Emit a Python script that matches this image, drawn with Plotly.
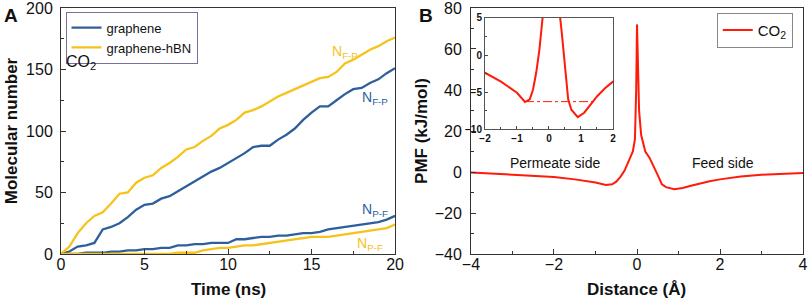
import plotly.graph_objects as go

# ---- Panel A data ----
t = [0, 0.5, 1, 1.5, 2, 2.5, 3, 3.5, 4, 4.5, 5, 5.5, 6, 6.5, 7, 7.5, 8, 8.5, 9, 9.5,
     10, 10.5, 11, 11.5, 12, 12.5, 13, 13.5, 14, 14.5, 15, 15.5, 16, 16.5, 17, 17.5,
     18, 18.5, 19, 19.5, 20]
hbn_fp = [0, 6, 17, 25, 31, 34, 41, 49, 50, 58, 62, 64, 70, 74, 79, 85, 87, 92, 96, 102,
          105, 109, 115, 117, 120, 124, 128, 131, 134, 137, 140, 143, 144, 148, 155, 158,
          162, 166, 169, 173, 176]
gr_fp = [0, 2, 6, 7, 9, 20, 22, 25, 30, 36, 40, 41, 45, 47, 51, 55, 59, 63, 67, 70,
         74, 78, 82, 87, 88, 88, 93, 97, 102, 109, 115, 120, 120, 125, 130, 134,
         135, 139, 142, 147, 151]
gr_pf = [0, 0, 0, 1, 1, 1, 2, 2, 3, 3, 4, 4, 5, 5, 7, 7, 8, 8, 9, 9,
         9, 12, 12, 13, 14, 14, 15, 15, 16, 17, 17, 18, 20, 21, 22, 23,
         24, 25, 26, 28, 31]
hbn_pf = [0, 0, 0, 0, 0, 0, 0, 0, 0, 0, 0, 0, 0, 0, 1, 1, 1, 3, 4, 5,
          5, 6, 7, 7, 8, 9, 10, 11, 12, 13, 14, 14, 14, 15, 16, 17,
          18, 19, 20, 21, 24]

# ---- Panel B data ----
dist = [-4, -3.5, -3, -2.5, -2, -1.5, -1, -0.75, -0.6, -0.5, -0.4, -0.3, -0.2, -0.1,
        -0.05, -0.02, 0, 0.02, 0.05, 0.1, 0.2, 0.3, 0.4, 0.5, 0.6, 0.7, 0.9, 1.1, 1.3,
        1.5, 1.75, 2, 2.5, 3, 3.5, 4]
pmf = [-0.2, -0.7, -1.2, -1.7, -2.4, -3.6, -5.1, -6.35, -6.0, -4.7, -2.4, 0.7, 5, 10,
       16, 40, 72, 50, 30, 18, 10, 7, 3, -1.5, -6, -7.4, -8.4, -7.8, -6.7,
       -5.6, -4.5, -3.6, -2.2, -1.3, -0.8, -0.5]
ref_x = [-0.75, 1.4]
ref_y = [-6.3, -6.3]

BLUE = "#2e5f9c"
YEL = "#f6c21c"
RED = "#ff1a0a"
FONT = "Liberation Sans, Arial, sans-serif"

fig = go.Figure()
fig.add_trace(go.Scatter(x=t, y=gr_fp, mode="lines", line=dict(color=BLUE, width=2.3),
                         name="graphene", legend="legend", xaxis="x", yaxis="y"))
fig.add_trace(go.Scatter(x=t, y=hbn_fp, mode="lines", line=dict(color=YEL, width=2.3),
                         name="graphene-hBN", legend="legend", xaxis="x", yaxis="y"))
fig.add_trace(go.Scatter(x=t, y=gr_pf, mode="lines", line=dict(color=BLUE, width=2.3),
                         showlegend=False, xaxis="x", yaxis="y"))
fig.add_trace(go.Scatter(x=t, y=hbn_pf, mode="lines", line=dict(color=YEL, width=2.3),
                         showlegend=False, xaxis="x", yaxis="y"))

fig.add_trace(go.Scatter(x=dist, y=pmf, mode="lines", line=dict(color=RED, width=2),
                         name="CO<sub>2</sub>", legend="legend2", xaxis="x2", yaxis="y2"))
fig.add_trace(go.Scatter(x=dist, y=pmf, mode="lines", line=dict(color=RED, width=2),
                         showlegend=False, xaxis="x3", yaxis="y3"))
fig.add_trace(go.Scatter(x=ref_x, y=ref_y, mode="lines", line=dict(color=RED, width=1, dash="dashdot"),
                         showlegend=False, xaxis="x3", yaxis="y3"))

axcommon = dict(showline=True, linecolor="#333", linewidth=1, mirror=True, ticks="inside",
                ticklen=5, tickcolor="#333", showgrid=False, zeroline=False, automargin=False,
                ticklabeloverflow="allow",
                tickfont=dict(size=16, family=FONT, color="#111"))
titlefont = dict(size=17, family=FONT, color="#111")

fig.update_layout(
    width=809, height=305, margin=dict(l=0, r=0, t=0, b=0, autoexpand=False),
    paper_bgcolor="white", plot_bgcolor="white",
    font=dict(family=FONT, color="#111"),
    xaxis=dict(domain=[0.0754, 0.4883], range=[0, 20], tickvals=[0, 5, 10, 15, 20],
               ticklabelstandoff=-4,
               minor=dict(ticks="inside", ticklen=3, dtick=2.5, tickcolor="#333"), **axcommon),
    yaxis=dict(domain=[0.1672, 0.9738], range=[0, 200], tickvals=[0, 50, 100, 150, 200],
               ticklabelstandoff=4,
               minor=dict(ticks="inside", ticklen=3, dtick=25, tickcolor="#333"),
               title=dict(text="<b>Molecular number</b>", font=titlefont, standoff=4), **axcommon),
    xaxis2=dict(domain=[0.5822, 0.9926], range=[-4, 4], tickvals=[-4, -2, 0, 2, 4],
                ticklabelstandoff=-4,
                minor=dict(ticks="inside", ticklen=3, dtick=1, tickcolor="#333"),
                anchor="y2", **axcommon),
    yaxis2=dict(domain=[0.1672, 0.9738], range=[-40, 80], tickvals=[-40, -20, 0, 20, 40, 60, 80],
                ticklabelstandoff=5,
                minor=dict(ticks="inside", ticklen=3, dtick=10, tickcolor="#333"),
                title=dict(text="<b>PMF (kJ/mol)</b>", font=titlefont, standoff=2),
                anchor="x2", **axcommon),
    xaxis3=dict(domain=[0.5995, 0.7577], range=[-2, 2], tickvals=[-2, -1, 0, 1, 2],
                anchor="y3", showline=True, linecolor="#555", mirror=True, ticks="inside",
                ticklen=3, showgrid=False, zeroline=False, automargin=False,
                minor=dict(ticks="inside", ticklen=2, dtick=0.5),
                tickfont=dict(size=10, family=FONT, color="#111", weight="bold")),
    yaxis3=dict(domain=[0.577, 0.941], range=[-10, 5], tickvals=[-10, -5, 0, 5],
                anchor="x3", showline=True, linecolor="#555", mirror=True, ticks="inside",
                ticklen=3, showgrid=False, zeroline=False, automargin=False,
                minor=dict(ticks="inside", ticklen=2, dtick=2.5),
                tickfont=dict(size=10, family=FONT, color="#111", weight="bold")),
    legend=dict(x=0.081, y=0.962, xanchor="left", yanchor="top", bgcolor="white",
                bordercolor="#7a6f9a", borderwidth=1, font=dict(size=13, family=FONT),
                tracegroupgap=0, itemwidth=30),
    legend2=dict(x=0.886, y=0.958, xanchor="left", yanchor="top", bgcolor="white",
                 bordercolor="#888", borderwidth=1, font=dict(size=15, family=FONT),
                 itemwidth=30),
    showlegend=True,
)

ann = [
    dict(text="<b>A</b>", x=0.003, y=0.99, xref="paper", yref="paper", xanchor="left", yanchor="top",
         showarrow=False, font=dict(size=19, family=FONT, color="#111")),
    dict(text="<b>B</b>", x=0.515, y=0.99, xref="paper", yref="paper", xanchor="left", yanchor="top",
         showarrow=False, font=dict(size=19, family=FONT, color="#111")),
    dict(text="<b>Time (ns)</b>", x=0.282, y=0.052, xref="paper", yref="paper", showarrow=False,
         xanchor="center", yanchor="middle", font=titlefont),
    dict(text="<b>Distance (Å)</b>", x=0.787, y=0.052, xref="paper", yref="paper", showarrow=False,
         xanchor="center", yanchor="middle", font=titlefont),
    dict(text="CO<sub>2</sub>", x=0.15, y=156, xref="x", yref="y", xanchor="left", showarrow=False,
         font=dict(size=16, family=FONT, color="#111")),
    dict(text="N<sub>F-P</sub>", x=17.0, y=164, xref="x", yref="y", showarrow=False,
         font=dict(size=14, family=FONT, color=YEL)),
    dict(text="N<sub>F-P</sub>", x=18.8, y=127, xref="x", yref="y", showarrow=False,
         font=dict(size=14, family=FONT, color=BLUE)),
    dict(text="N<sub>P-F</sub>", x=18.8, y=36, xref="x", yref="y", showarrow=False,
         font=dict(size=14, family=FONT, color=BLUE)),
    dict(text="N<sub>P-F</sub>", x=18.5, y=8, xref="x", yref="y", showarrow=False,
         font=dict(size=14, family=FONT, color=YEL)),
    dict(text="Permeate side", x=-1.98, y=4.5, xref="x2", yref="y2", showarrow=False,
         font=dict(size=14, family=FONT, color="#111")),
    dict(text="Feed side", x=2.07, y=4.5, xref="x2", yref="y2", showarrow=False,
         font=dict(size=14, family=FONT, color="#111")),
]
fig.update_layout(annotations=ann)
fig.write_html("out.html", config={"displayModeBar": False},
               post_script="document.body.style.margin='0';document.body.style.overflow='hidden';")
